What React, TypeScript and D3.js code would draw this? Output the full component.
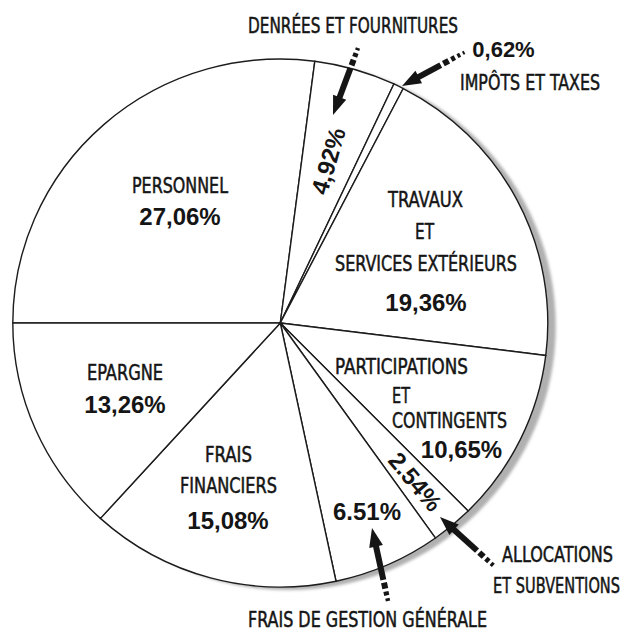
import React from "react";
import * as d3 from "d3";

// ---- data ----
const categories = [
  "PERSONNEL",
  "DENRÉES ET FOURNITURES",
  "IMPÔTS ET TAXES",
  "TRAVAUX ET SERVICES EXTÉRIEURS",
  "PARTICIPATIONS ET CONTINGENTS",
  "ALLOCATIONS ET SUBVENTIONS",
  "FRAIS DE GESTION GÉNÉRALE",
  "FRAIS FINANCIERS",
  "EPARGNE",
];
const values = [27.06, 4.92, 0.62, 19.36, 10.65, 2.54, 6.51, 15.08, 13.26];
const valueLabels = ["27,06%", "4,92%", "0,62%", "19,36%", "10,65%", "2.54%", "6.51%", "15,08%", "13,26%"];

// ---- layout ----
const W = 632;
const H = 633;
const CX = 280.3;
const CY = 323;
const R = 267.5;
const SY = 0.987;

const COND = "'Liberation Sans Narrow', 'DejaVu Sans Condensed', 'Arial Narrow', sans-serif";
const BOLD = "'Liberation Sans', Arial, Helvetica, sans-serif";
const INK = "#151515";
const NAME_FS = 15; // drawn size, stretched vertically to look like 22px condensed type
const NAME_STRETCH = 22 / 15;

// name lines: [text, centerX, baselineY, width]
const nameLines: [string, number, number, number][][] = [
  [["PERSONNEL", 180, 193, 96]],
  [["DENRÉES ET FOURNITURES", 353, 33, 210]],
  [["IMPÔTS ET TAXES", 530, 90, 140]],
  [
    ["TRAVAUX", 425.5, 207, 75],
    ["ET", 424.5, 239, 19],
    ["SERVICES EXTÉRIEURS", 426, 271, 182],
  ],
  [
    ["PARTICIPATIONS", 401.5, 374, 133],
    ["ET", 401, 403, 18],
    ["CONTINGENTS", 449.5, 428, 115],
  ],
  [
    ["ALLOCATIONS", 557.5, 562, 111],
    ["ET SUBVENTIONS", 556.5, 593, 127],
  ],
  [["FRAIS DE GESTION GÉNÉRALE", 367.5, 627, 239]],
  [
    ["FRAIS", 228.5, 462, 47],
    ["FINANCIERS", 228.5, 493, 97],
  ],
  [["EPARGNE", 125, 380, 76]],
];

type VPos = { x?: number; y?: number; size: number; r?: number };
const valuePos: VPos[] = [
  { x: 180, y: 225, size: 24 },
  { r: 171, size: 24 },
  { x: 503.5, y: 57, size: 22 },
  { x: 426, y: 311, size: 24 },
  { x: 461.5, y: 458, size: 24 },
  { r: 210, size: 24 },
  { x: 367, y: 520, size: 24 },
  { x: 228, y: 529, size: 24 },
  { x: 125, y: 413, size: 24 },
];

const arrows: { t: [number, number]; p: [number, number]; solid: number }[] = [
  { t: [358, 48], p: [333, 115], solid: 50 },
  { t: [467, 51], p: [402, 86], solid: 44 },
  { t: [388, 601], p: [372, 528], solid: 53 },
  { t: [494, 566], p: [440, 517], solid: 50 },
];

function Arrow({ t, p, solid }: { t: [number, number]; p: [number, number]; solid: number }) {
  const dx = p[0] - t[0];
  const dy = p[1] - t[1];
  const len = Math.hypot(dx, dy);
  const ux = dx / len;
  const uy = dy / len;
  const nx = -uy;
  const ny = ux;
  const headLen = 19;
  const hw = 7;
  const sw = 3;
  const pt = (d: number, o: number) => [p[0] - ux * d + nx * o, p[1] - uy * d + ny * o];
  const poly = (pts: number[][]) => pts.map((q) => q.join(",")).join(" ");
  const head = poly([pt(0, 0), pt(headLen, hw), pt(headLen, -hw)]);
  const shaft = poly([pt(headLen - 2, sw), pt(solid, sw), pt(solid, -sw), pt(headLen - 2, -sw)]);
  const dashes: string[] = [];
  const dl = [6, 4, 3, 2];
  const dwid = [3, 2.6, 2.2, 1.8];
  let d = solid + 3;
  for (let i = 0; i < dl.length && d < len; i++) {
    const e = Math.min(d + dl[i], len);
    dashes.push(poly([pt(d, dwid[i]), pt(e, dwid[i]), pt(e, -dwid[i]), pt(d, -dwid[i])]));
    d = e + 3;
  }
  return (
    <g fill={INK}>
      <polygon points={head} />
      <polygon points={shaft} />
      {dashes.map((s, i) => (
        <polygon key={i} points={s} />
      ))}
    </g>
  );
}

export default function App() {
  const pie = d3
    .pie<number>()
    .sort(null)
    .startAngle(-Math.PI / 2)
    .endAngle(1.5 * Math.PI)(values);
  const arc = d3.arc<d3.PieArcDatum<number>>().innerRadius(0).outerRadius(R);

  return (
    <svg
      width={W}
      height={H}
      viewBox={`0 0 ${W} ${H}`}
      style={{ position: "absolute", left: 0, top: 0, background: "#fff" }}
    >
      <defs>
        <filter id="shadowBlur" x="-10%" y="-10%" width="120%" height="120%">
          <feGaussianBlur stdDeviation="1.6" />
        </filter>
      </defs>
      <rect width={W} height={H} fill="#fff" />
      <ellipse cx={CX + 8} cy={CY + 3} rx={R} ry={R * SY} fill="#b0b0b0" filter="url(#shadowBlur)" />
      <g transform={`translate(${CX},${CY}) scale(1,${SY})`}>
        {pie.map((s, i) => (
          <path
            key={categories[i]}
            d={arc(s) || ""}
            fill="#fff"
            stroke="#1c1c1c"
            strokeWidth={1.4}
            strokeLinejoin="round"
            vectorEffect="non-scaling-stroke"
          />
        ))}
      </g>

      {nameLines.map((lines, i) =>
        lines.map(([txt, x, y, w], j) => (
          <text
            key={`${i}-${j}`}
            transform={`translate(${x - w / 2},${y}) scale(1,${NAME_STRETCH})`}
            x={0}
            y={0}
            textLength={w}
            lengthAdjust="spacingAndGlyphs"
            fontFamily={COND}
            fontSize={NAME_FS}
            fill={INK}
            stroke={INK}
            strokeWidth={0.35}
          >
            {txt}
          </text>
        ))
      )}

      {pie.map((s, i) => {
        const vp = valuePos[i];
        if (vp.r !== undefined) {
          const mid = (s.startAngle + s.endAngle) / 2;
          const x = CX + vp.r * Math.sin(mid);
          const y = CY - vp.r * Math.cos(mid) * SY;
          const rot = (mid * 180) / Math.PI - 90;
          return (
            <text
              key={`v${i}`}
              transform={`translate(${x},${y}) rotate(${rot})`}
              textAnchor="middle"
              dominantBaseline="central"
              fontFamily={BOLD}
              fontWeight="bold"
              fontSize={vp.size}
              fill={INK}
            >
              {valueLabels[i]}
            </text>
          );
        }
        return (
          <text
            key={`v${i}`}
            x={vp.x}
            y={vp.y}
            textAnchor="middle"
            fontFamily={BOLD}
            fontWeight="bold"
            fontSize={vp.size}
            fill={INK}
          >
            {valueLabels[i]}
          </text>
        );
      })}

      {arrows.map((a, i) => (
        <Arrow key={i} {...a} />
      ))}
    </svg>
  );
}
